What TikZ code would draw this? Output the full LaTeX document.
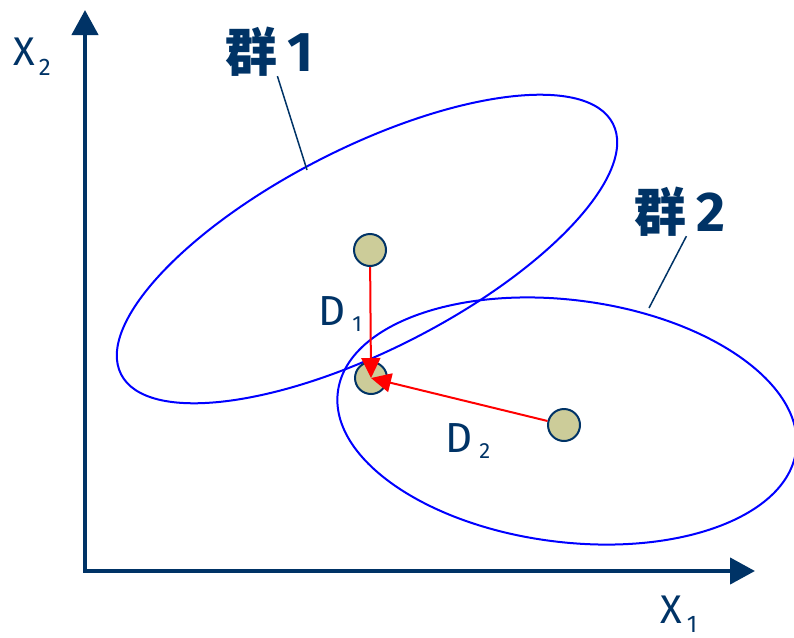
\documentclass[tikz,border=0pt]{standalone}
\usepackage{fontspec}
\setmainfont{Fira Sans}
\newfontfamily\cjk{Noto Sans CJK SC}
\usetikzlibrary{arrows.meta}
\definecolor{clnavy}{RGB}{0,51,102}
\definecolor{clblue}{RGB}{0,0,255}
\definecolor{clred}{RGB}{255,0,0}
\definecolor{cltan}{RGB}{204,204,153}

\begin{document}
\begin{tikzpicture}[x=1pt,y=-1pt,
    axis/.style={draw=clnavy,line width=4.3pt,
                 {Triangle[length=25pt,width=26pt]}-{Triangle[length=25pt,width=26pt]}},
    group/.style={draw=clblue,line width=2pt},
    pt/.style={circle,draw=clnavy,fill=cltan,line width=2pt,
               minimum size=32pt,inner sep=0pt},
    dist/.style={draw=clred,line width=2pt,-{Triangle[length=20pt,width=19pt]}},
    lead/.style={draw=clnavy,line width=1.5pt},
    lbl/.style={text=clnavy,inner sep=0pt,anchor=base west,
                font=\fontsize{40}{40}\selectfont},
    glbl/.style={text=clnavy,inner sep=0pt,anchor=base west,
                 font=\cjk\bfseries\fontsize{52}{52}\selectfont},
    gnum/.style={text=clnavy,inner sep=0pt,anchor=base west,
                 font=\bfseries\fontsize{56}{56}\selectfont}
  ]
    \useasboundingbox (0,0) rectangle (794,637);
    % axes
    \coordinate (ytip) at (85,10);
    \coordinate (orig) at (85,571);
    \coordinate (xtip) at (755,571);
    \draw[axis] (ytip) -- (orig) -- (xtip);
    \node[lbl] (x2) at (13,65) {X\hspace{4pt}\raisebox{-10pt}{\fontsize{24}{24}\selectfont 2}};
    \node[lbl] (x1) at (660,623) {X\hspace{5pt}\raisebox{-9pt}{\fontsize{24}{24}\selectfont 1}};
    % groups
    \draw[group,rotate around={27:(367,249)}] (367,249) ellipse [x radius=276,y radius=101];
    \draw[group,rotate around={-7.3:(567,421)}] (567,421) ellipse [x radius=231,y radius=121];
    \node[glbl] (g1) at (225,71) {群};
    \node[gnum] (g1n) at ([xshift=10pt]g1.base east) {1};
    \node[glbl] (g2) at (634,231) {群};
    \node[gnum] (g2n) at ([xshift=10pt]g2.base east) {2};
    \coordinate (e1) at (307,170);
    \coordinate (e2) at (649,308);
    \draw[lead] (g1.south east) -- (e1);
    \draw[lead] (g2.south east) -- (e2);
    % points and distances
    \node[pt] (c1) at (370,250) {};
    \node[pt] (obj) at (371,378) {};
    \node[pt] (c2) at (564,425) {};
    \draw[dist] (c1) -- (obj.center);
    \draw[dist] (c2) -- (obj.center);
    \node[lbl,font=\fontsize{42}{42}\selectfont] (d1) at (318,325)
      {D\hspace{7pt}\raisebox{-6pt}{\fontsize{22}{22}\selectfont 1}};
    \node[lbl,font=\fontsize{42}{42}\selectfont] (d2) at (445,452)
      {D\hspace{7pt}\raisebox{-6pt}{\fontsize{22}{22}\selectfont 2}};
\end{tikzpicture}
\end{document}
